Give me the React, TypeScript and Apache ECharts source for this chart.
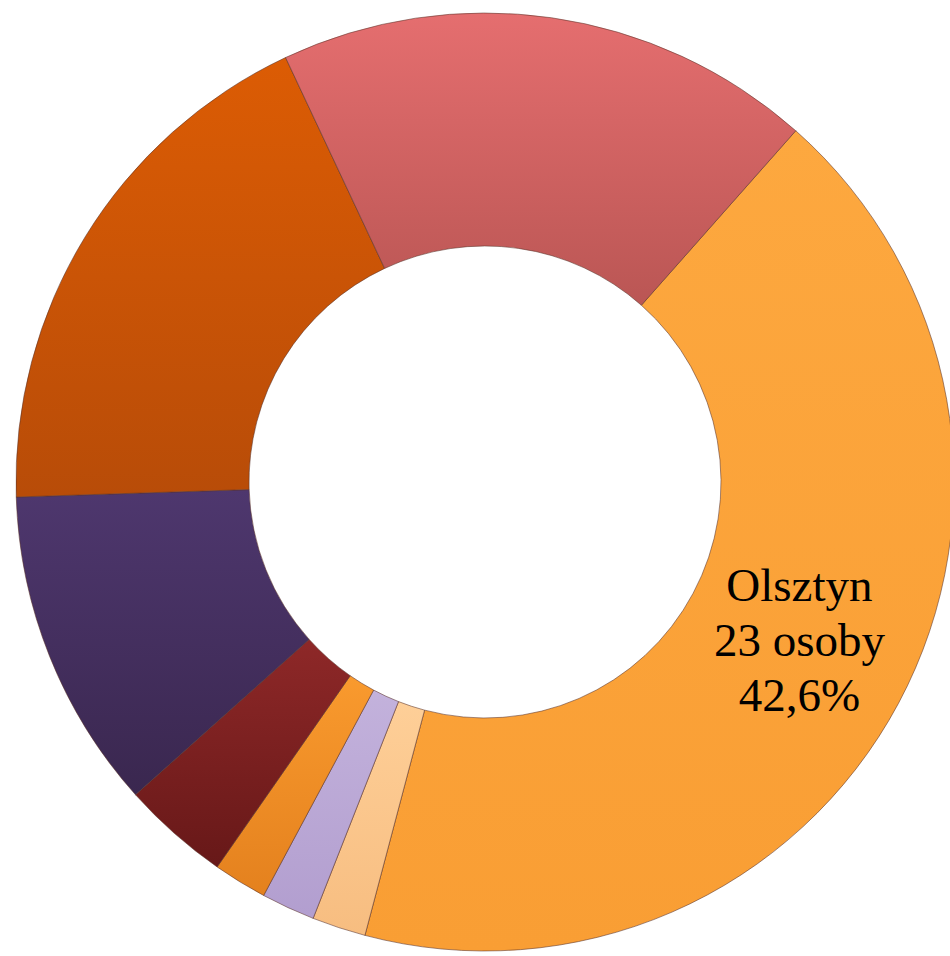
import React, { useEffect, useRef } from "react";
import * as echarts from "echarts";

const categories = ["Olsztyn", "Kategoria 2", "Kategoria 3", "Kategoria 4", "Kategoria 5", "Kategoria 6", "Kategoria 7", "Kategoria 8"];
const values = [23, 1, 1, 1, 2, 6, 10, 10];
const topColors = ["#FDA83F", "#FECF98", "#C3B2DC", "#F99A2E", "#8E2828", "#4E376E", "#DC5C04", "#E56E6F"];
const bottomColors = ["#F99E34", "#F7BD80", "#B29ECF", "#E4811E", "#671818", "#3A274F", "#B84C08", "#BA5654"];
const labelled = ["Olsztyn"];

export default function App() {
  const ref = useRef<HTMLDivElement>(null);
  useEffect(() => {
    if (!ref.current) return;
    const chart = echarts.init(ref.current, null, { renderer: "svg" });
    const total = values.reduce((a, b) => a + b, 0);
    const data = categories.map((name, i) => ({
      name,
      value: values[i],
      itemStyle: {
        color: new echarts.graphic.LinearGradient(0, 0, 0, 1, [
          { offset: 0, color: topColors[i] },
          { offset: 1, color: bottomColors[i] },
        ]),
      },
      label: { show: labelled.includes(name) },
    }));
    chart.setOption({
      animation: false,
      backgroundColor: "#ffffff",
      series: [
        {
          type: "pie",
          center: [485, 482],
          radius: [236, 469],
          startAngle: 48.5,
          clockwise: true,
          avoidLabelOverlap: false,
          itemStyle: {
            borderColor: "rgba(90,50,40,0.55)",
            borderWidth: 1,
          },
          emphasis: { disabled: true },
          label: {
            position: "inside",
            color: "#000000",
            fontFamily: "Liberation Serif",
            fontSize: 47,
            lineHeight: 55,
            align: "center",
            formatter: (p: any) =>
              `${p.name}\n${p.value} osoby\n${((p.value / total) * 100).toFixed(1).replace(".", ",")}%`,
          },
          labelLine: { show: false },
          labelLayout: { dx: 1, dy: -10 },
          data,
        },
      ],
    });
    return () => chart.dispose();
  }, []);
  return (
    <div
      ref={ref}
      style={{ position: "fixed", left: 0, top: 0, width: 950, height: 956 }}
    />
  );
}
